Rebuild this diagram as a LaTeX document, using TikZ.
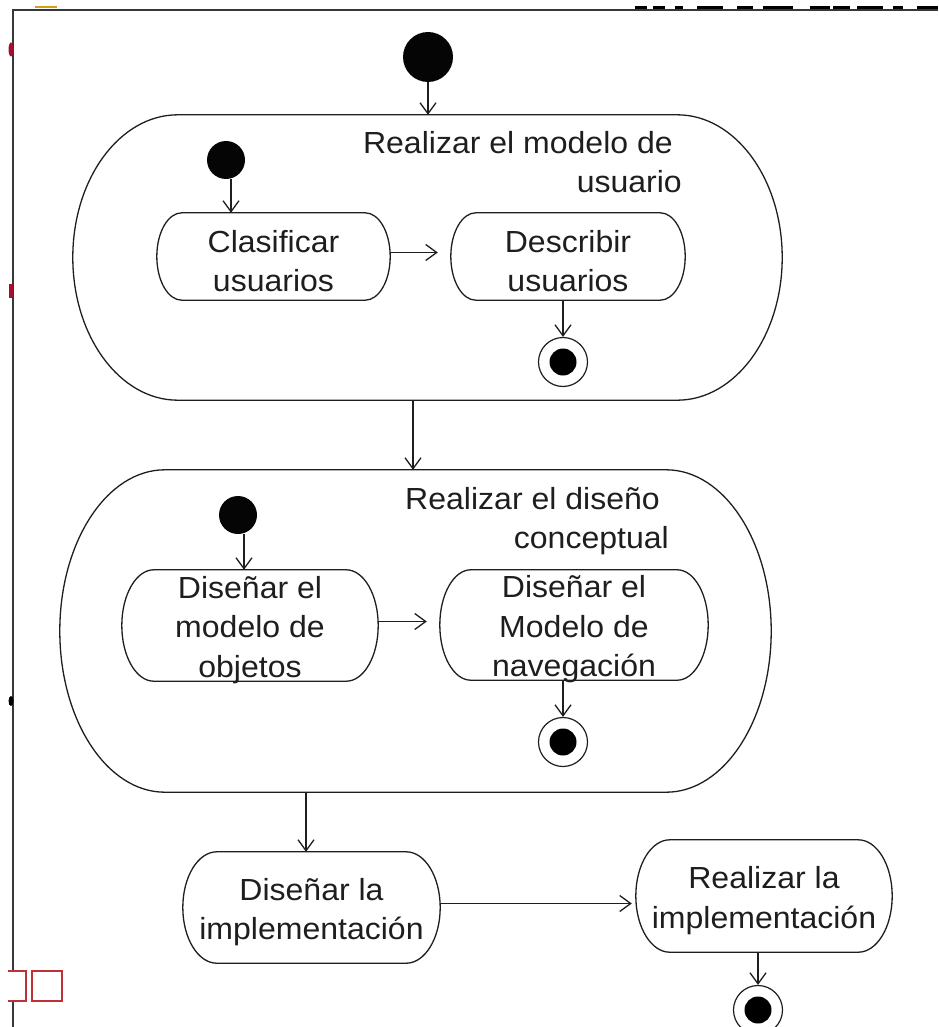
\documentclass[tikz,border=0pt]{standalone}
\usepackage{fontspec}
\setmainfont{Liberation Sans}[FakeStretch=1.05]
\usetikzlibrary{arrows.meta,calc}

% outline of an activity: straight top and bottom, half-elliptic ends
\newcommand\pillframe[2]{%
  \draw[outline] let \p1=(#1.north west), \p2=(#1.south east), \n1={(\y1-\y2)/2} in
    (\x1+#2,\y1) -- (\x2-#2,\y1)
    arc[start angle=90,end angle=-90,x radius=#2,y radius=\n1]
    -- (\x1+#2,\y2)
    arc[start angle=270,end angle=90,x radius=#2,y radius=\n1] -- cycle;}
% extra room above the first line of an activity label
\newcommand\padtop{\rule{0pt}{31pt}}

\begin{document}
\begin{tikzpicture}[x=1pt,y=1pt,
  ink/.style={color={rgb,255:red,30;green,30;blue,30}},
  outline/.style={ink,line width=1.3pt},
  region/.style={inner sep=0pt},
  actbox/.style 2 args={region,minimum width=#1pt,minimum height=#2pt},
  acttext/.style={inner sep=0pt,align=center,text={rgb,255:red,30;green,30;blue,30},
    font=\fontsize{30.5}{39.5}\selectfont},
  caption/.style={inner sep=0pt,align=right,anchor=north east,
    text={rgb,255:red,30;green,30;blue,30},font=\fontsize{30.5}{39.5}\selectfont},
  initial/.style={circle,fill={rgb,255:red,5;green,5;blue,5},inner sep=0pt},
  final/.style={circle,draw={rgb,255:red,30;green,30;blue,30},line width=1.2pt,
    minimum size=49pt,inner sep=0pt,
    path picture={\fill[black] (path picture bounding box.center) circle (13.5pt);}},
  arr/.style={ink,line width=1.3pt,-{Straight Barb[length=11pt,width=16pt,line width=1.3pt]}},
  frame/.style={color={rgb,255:red,55;green,55;blue,55},line width=2.5pt},
  scrap/.style={color={rgb,255:red,190;green,50;blue,55},line width=1.6pt}
]
\useasboundingbox (0,0) rectangle (938,-1027);

% page frame and the cut-off bits around it
\draw[frame] (13,-1027) -- (13,-10) -- (938,-10);
\foreach \a/\b in {635/647,653/665,675/683,697/723,737/753,763/793,810/830,833/850,857/883,893/903,917/938}
  \draw[black,line width=2.8pt] (\a,-7.3) -- (\b,-7.3);
\fill[color={rgb,255:red,212;green,160;blue,23}] (35,-6) rectangle (57,-8.5);
\fill[color={rgb,255:red,165;green,15;blue,45}] (11,-49.5) ellipse [x radius=2.5pt,y radius=7pt];
\fill[color={rgb,255:red,165;green,15;blue,45}] (9,-284) rectangle (13,-298);
\fill[black] (11,-701) ellipse [x radius=2.5pt,y radius=5pt];
\fill[white] (8,-971) rectangle (26,-1001);
\draw[scrap] (8,-971) -- (26,-971) -- (26,-1001) -- (8,-1001);
\draw[scrap,fill=white] (32,-971) rectangle (62,-1001);

% top-level start
\node[initial,minimum size=50pt] (start0) at (428,-57) {};

% first composite activity
\node[region,minimum width=709pt,minimum height=285pt] (box1) at (427.5,-257.5) {};
\pillframe{box1}{105pt}
\node[caption] (lab1) at (682,-131) {Realizar el modelo de\rule{9pt}{0pt}\\usuario};
\node[initial,minimum size=38pt] (ini1) at (226,-160) {};
\node[actbox={233}{87},label={[acttext]center:{\padtop Clasificar\\usuarios}}] (clas) at (273.5,-256.5) {};
\pillframe{clas}{25pt}
\node[actbox={234}{87},label={[acttext]center:{\padtop Describir\\usuarios}}] (desc) at (568,-256.5) {};
\pillframe{desc}{25pt}
\node[final] (end1) at (563,-362) {};

% second composite activity
\node[region,minimum width=711pt,minimum height=322pt] (box2) at (415.5,-631) {};
\pillframe{box2}{105pt}
\node[caption] (lab2) at (669,-487) {Realizar el diseño\rule{9pt}{0pt}\\conceptual};
\node[initial,minimum size=38pt] (ini2) at (238,-515) {};
\node[actbox={256}{111},label={[acttext]center:{\padtop Diseñar el\\modelo de\\objetos}}] (dsn1) at (250,-625.5) {};
\pillframe{dsn1}{32pt}
\node[actbox={268}{110},label={[acttext]center:{\padtop Diseñar el\\Modelo de\\navegación}}] (dsn2) at (574,-625) {};
\pillframe{dsn2}{31pt}
\node[final] (end2) at (563,-742) {};

% implementation
\node[actbox={257}{111},label={[acttext]center:{\padtop Diseñar la\\implementación}}] (impl1) at (311.5,-907.5) {};
\pillframe{impl1}{34pt}
\node[actbox={256}{112},label={[acttext]center:{\padtop Realizar la\\implementación}}] (impl2) at (764,-896) {};
\pillframe{impl2}{34pt}
\node[final] (end3) at (758,-1010) {};

% transitions
\draw[arr] (start0.south) -- (start0.south |- box1.north);
\draw[arr] ([xshift=5pt]ini1.south) -- ([xshift=5pt]ini1.south |- clas.north);
\draw[arr,shorten >=13pt] ([yshift=4pt]clas.east) -- ([yshift=4pt]clas.east -| desc.west);
\draw[arr] (end1.north |- desc.south) -- (end1.north);
\draw[arr] ([xshift=-14.5pt]box1.south) -- ([xshift=-14.5pt]box1.south |- box2.north);
\draw[arr] ([xshift=6pt]ini2.south) -- ([xshift=6pt]ini2.south |- dsn1.north);
\draw[arr,shorten >=13pt] ([yshift=4pt]dsn1.east) -- ([yshift=4pt]dsn1.east -| dsn2.west);
\draw[arr] (end2.north |- dsn2.south) -- (end2.north);
\draw[arr] ([xshift=-5.5pt]impl1.north |- box2.south) -- ([xshift=-5.5pt]impl1.north);
\draw[arr,shorten >=4pt] ([yshift=4pt]impl1.east) -- ([yshift=4pt]impl1.east -| impl2.west);
\draw[arr] (end3.north |- impl2.south) -- (end3.north);
\end{tikzpicture}
\end{document}
